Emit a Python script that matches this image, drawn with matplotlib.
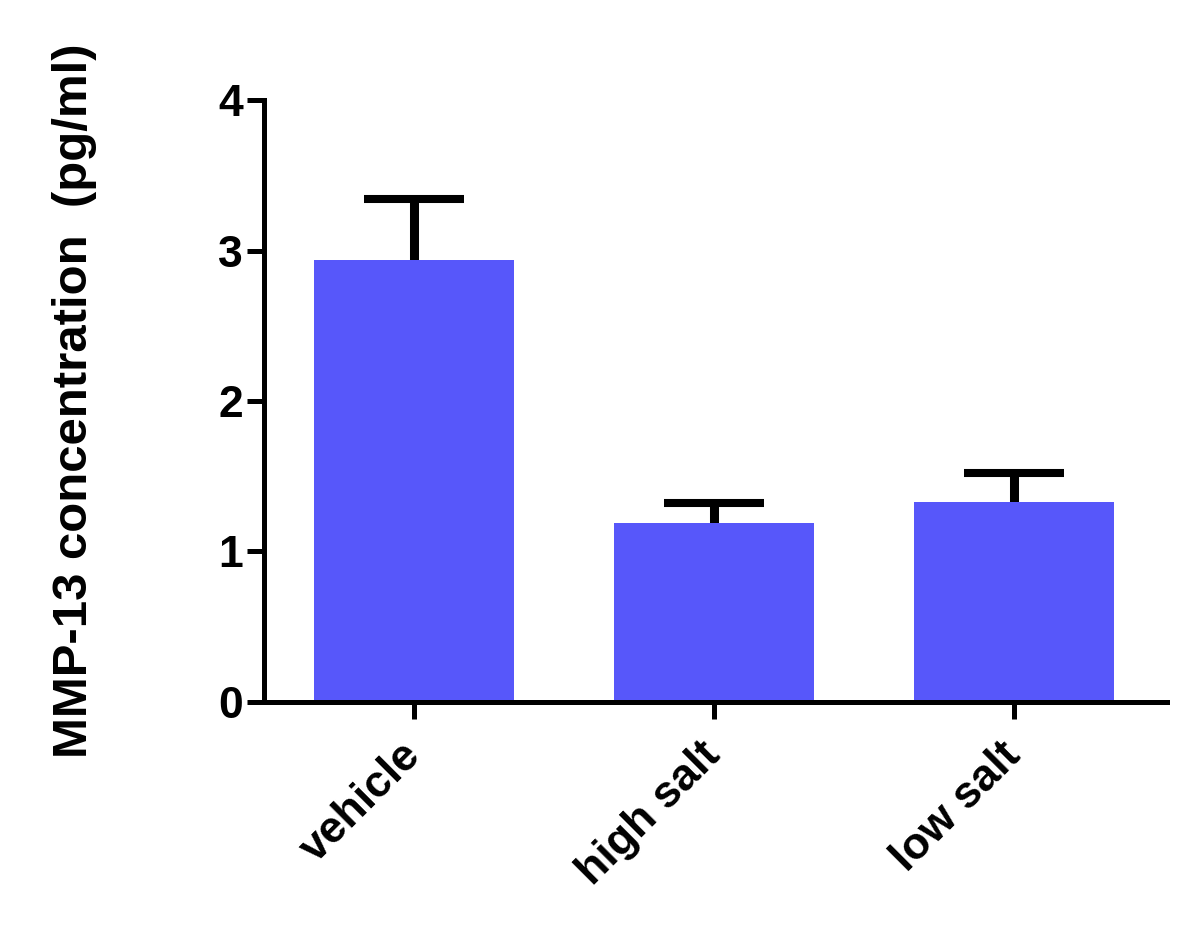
import numpy as np
import matplotlib
matplotlib.use("Agg")
import matplotlib.pyplot as plt

# data
groups = ["vehicle", "high salt", "low salt"]
means = [2.94, 1.19, 1.33]
sems = [0.40, 0.13, 0.19]
yticks = [0, 1, 2, 3, 4]

plt.rcParams['font.family'] = ['Liberation Sans', 'DejaVu Sans']
plt.rcParams['font.weight'] = 'bold'

fig = plt.figure(figsize=(11.94, 9.39), dpi=100)
ax = fig.add_axes([0.2211, 0.2524, 0.7563, 0.6411])

x = np.arange(len(groups))
# error bars sit behind the bars so only the upper half shows
ax.errorbar(x, means, yerr=[sems, sems], fmt='none', ecolor='black',
            elinewidth=6.5, capsize=36, capthick=5.8, zorder=1)
ax.bar(x, means, width=0.667, color='#5757FA', zorder=2)

ax.set_xlim(-0.5, 2.51)
ax.set_ylim(0, 4)
ax.set_yticks(yticks)
ax.set_yticklabels([str(t) for t in yticks], fontsize=32, fontweight='bold')
ax.set_xticks(x)
ax.set_xticklabels(groups, fontsize=32, fontweight='bold', rotation=45,
                   ha='right', va='center', rotation_mode='anchor')

for side in ['top', 'right']:
    ax.spines[side].set_visible(False)
for side in ['left', 'bottom']:
    ax.spines[side].set_linewidth(3.6)
ax.tick_params(axis='y', length=12, width=3.6, pad=3)
ax.tick_params(axis='x', length=12, width=3.6, pad=22)

fig.text(0.062, 1 - 401 / 939, "MMP-13 concentration  (pg/ml)", rotation=90,
         ha='center', va='center', fontsize=35.4, fontweight='bold')

fig.savefig("out.png", dpi=100)
